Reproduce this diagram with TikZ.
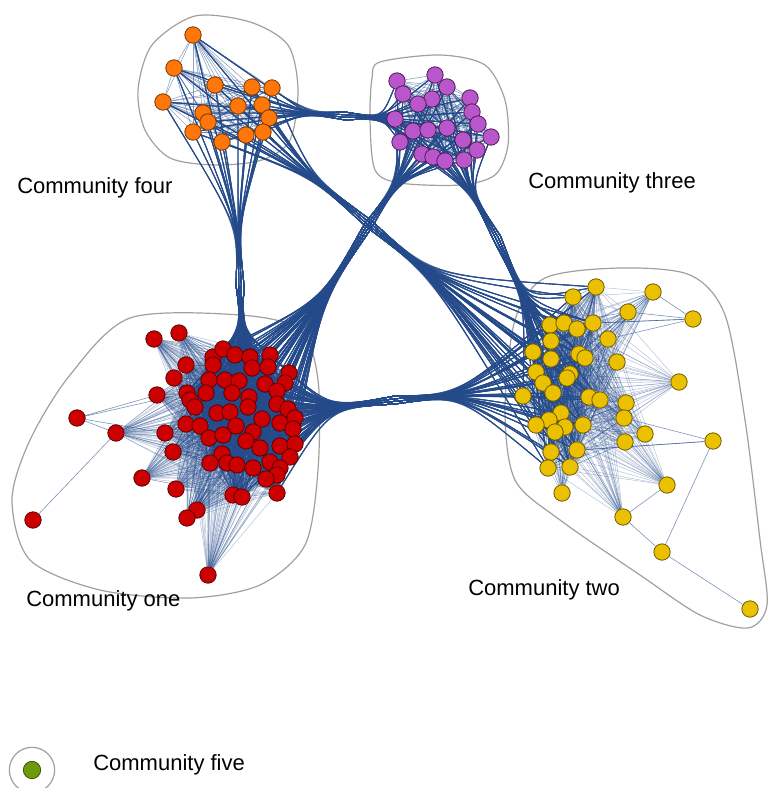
\documentclass[tikz,border=0pt]{standalone}
\usepackage{fontspec}
\setmainfont{Liberation Sans}
\usetikzlibrary{backgrounds}
\definecolor{edgeblue}{RGB}{36,74,138}
\definecolor{hullgray}{RGB}{160,160,160}
\definecolor{orangefill}{RGB}{255,118,10}
\definecolor{orangeline}{RGB}{120,55,0}
\definecolor{purplefill}{RGB}{186,86,204}
\definecolor{purpleline}{RGB}{75,28,85}
\definecolor{redfill}{RGB}{204,0,0}
\definecolor{redline}{RGB}{90,0,0}
\definecolor{yellowfill}{RGB}{234,192,0}
\definecolor{yellowline}{RGB}{110,90,0}
\definecolor{greenfill}{RGB}{107,154,10}
\definecolor{greenline}{RGB}{60,85,0}
\begin{document}
\begin{tikzpicture}[x=0.75pt,y=-0.75pt]
  \tikzstyle{member}=[circle,line width=0.6pt,minimum size=12.3pt,inner sep=0pt]
  \tikzstyle{orangenode}=[member,draw=orangeline,fill=orangefill]
  \tikzstyle{purplenode}=[member,draw=purpleline,fill=purplefill]
  \tikzstyle{rednode}=[member,draw=redline,fill=redfill]
  \tikzstyle{yellownode}=[member,draw=yellowline,fill=yellowfill]
  \tikzstyle{intraedge}=[draw=edgeblue,line width=0.45pt,opacity=0.5]
  \tikzstyle{fanedge}=[draw=edgeblue,line width=0.35pt,opacity=0.35]
  \tikzstyle{bundleedge}=[draw=edgeblue,line width=0.7pt,opacity=0.75]
  \tikzstyle{hullline}=[draw=hullgray,line width=0.9pt]
  \tikzstyle{commname}=[font=\fontsize{16.5}{19}\selectfont,anchor=west,inner sep=0pt]
  \useasboundingbox (0,0) rectangle (767,788);

  % community four
  \foreach \x/\y [count=\i] in {193/35,174/68,215/85,252/87,272/88,163/102,238/106,262/105,
      203/113,208/122,269/118,193/132,246/135,263/132,222/142}
    \node[orangenode] (o\i) at (\x,\y) {};
  % community three
  \foreach \x/\y [count=\i] in {397/81,435/75,447/87,403/94,432/99,470/98,418/104,472/112,
      395/119,478/124,413/131,428/130,447/128,491/137,400/142,463/140,477/150,422/154,
      433/157,445/161,464/160}
    \node[purplenode] (p\i) at (\x,\y) {};
  % community one
  \foreach \x/\y [count=\i] in {213/357,223/349,235/355,250/357,270/355,213/365,252/368,
      268/367,289/373,209/380,225/380,239/381,265/384,285/383,277/391,187/393,206/393,
      232/393,249/397,190/400,195/407,248/407,277/404,288/409,217/413,230/412,262/419,
      295/418,186/424,200/426,236/426,280/423,293/429,209/438,223/435,253/432,246/441,
      260/448,280/446,295/444,222/454,210/463,227/463,237/465,253/468,270/462,290/457,
      280/468,277/475,266/479,233/495,242/497,277/493}
    \node[rednode] (r\i) at (\x,\y) {};
  \foreach \x/\y [count=\i] in {154/339,179/333,186/365,174/378,157/395,116/433,165/433,
      173/452,142/478,176/489,197/510,187/518,208/575}
    \node[rednode] (rf\i) at (\x,\y) {};
  \node[rednode] (rx1) at (77,418) {};
  \node[rednode] (rx2) at (33,520) {};
  % community two
  \foreach \x/\y [count=\i] in {596/287,573/297,550/325,564/323,577/329,593/323,551/341,
      533/352,579/354,585/358,551/359,536/372,543/383,570/374,567/378,553/393,523/396,
      589/397,600/400,561/413,549/420,536/425,565/427,583/425,555/432,551/452,577/450,
      548/468,570/467}
    \node[yellownode] (y\i) at (\x,\y) {};
  \foreach \x/\y [count=\i] in {653/292,628/312,608/339,617/362,679/382,626/403,624/418,
      645/434,625/442,667/485,623/517,562/493}
    \node[yellownode] (yf\i) at (\x,\y) {};
  \node[yellownode] (yx1) at (693,319) {};
  \node[yellownode] (yx2) at (713,441) {};
  \node[yellownode] (yx3) at (662,552) {};
  \node[yellownode] (yx4) at (750,609) {};

  % community five
  \node[circle,draw=hullgray,line width=0.9pt,minimum size=34pt] (ring) at (32,770) {};
  \node[member,draw=greenline,fill=greenfill,minimum size=13pt] (g1) at (32,770) {};

  % names
  \node[commname] (nfour) at (17,188) {Community four};
  \node[commname] (nthree) at (528,183) {Community three};
  \node[commname] (none) at (26,601) {Community one};
  \node[commname] (ntwo) at (468,590) {Community two};
  \node[commname] (nfive) at (93,765) {Community five};

  \begin{scope}[on background layer]
    % hulls
    \draw[hullline] plot[smooth cycle] coordinates {(195,16) (250,22) (288,45) (298,90)
      (290,140) (262,160) (215,165) (170,158) (145,130) (138,90) (152,45)};
    \draw[hullline] plot[smooth cycle] coordinates {(380,62) (440,55) (485,65) (505,100)
      (508,145) (495,175) (460,185) (400,183) (375,170) (370,120) (372,78)};
    \draw[hullline] plot[smooth cycle] coordinates {(130,318) (240,315) (300,330) (318,380)
      (318,470) (305,545) (260,585) (190,598) (100,590) (30,560) (12,500) (30,440) (70,375)};
    \draw[hullline] plot[smooth cycle] coordinates {(545,278) (620,268) (690,275) (725,315)
      (745,420) (760,540) (767,605) (748,628) (700,615) (640,575) (560,520) (515,480)
      (505,410) (515,320)};

    % edges inside the communities
    \foreach \i in {2,...,15} \foreach \j in {1,...,\i}
      {\ifnum\j<\i \draw[intraedge] (o\i) -- (o\j); \fi}
    \foreach \i in {2,...,21} \foreach \j in {1,...,\i}
      {\ifnum\j<\i \draw[intraedge] (p\i) -- (p\j); \fi}
    \foreach \i in {2,...,53} \foreach \j in {1,...,\i}
      {\ifnum\j<\i \draw[intraedge] (r\i) -- (r\j); \fi}
    \foreach \i in {2,...,29} \foreach \j in {1,...,\i}
      {\ifnum\j<\i \draw[intraedge] (y\i) -- (y\j); \fi}
    \foreach \f in {1,...,13} \foreach \c in {1,...,53}
      \draw[fanedge] (rf\f) -- (r\c);
    \foreach \f in {1,...,12} \foreach \c in {1,...,29}
      \draw[fanedge] (yf\f) -- (y\c);
    \foreach \a/\b in {rx1/rf6,rx1/rf5,rx1/rf7,rx1/r16,rx2/rf6,
        yx1/yf1,yx1/yf2,yx1/yf3,yx1/y6,yx1/y3,yx2/yx3,yx2/y26,yx2/y27,yx2/yf7,
        yx3/yf11,yx3/yx4,yf11/yf10}
      \draw[intraedge,opacity=0.6] (\a) -- (\b);

    % bundles between the communities
    \coordinate (wop) at (345,116);
    \coordinate (cop1) at (305,113);
    \coordinate (cop2) at (382,118);
    \coordinate (wor) at (240,285);
    \coordinate (cor1) at (238,225);
    \coordinate (cor2) at (242,330);
    \coordinate (woy) at (368,223);
    \coordinate (coy1) at (311,176);
    \coordinate (coy2) at (432,276);
    \coordinate (wpr) at (368,226);
    \coordinate (cpr1) at (399,180);
    \coordinate (cpr2) at (322,300);
    \coordinate (wpy) at (497,238);
    \coordinate (cpy1) at (470,190);
    \coordinate (cpy2) at (525,300);
    \coordinate (wry) at (395,400);
    \coordinate (cry1) at (330,408);
    \coordinate (cry2) at (460,395);
    \foreach \s in {-4,-1.3,1.3,4} {
      \foreach \i in {1,...,15} {
        \draw[bundleedge] (o\i) .. controls (cop1) .. ([shift={(0,\s)}]wop);
        \draw[bundleedge] (o\i) .. controls (cor1) .. ([shift={(\s,0)}]wor);
        \draw[bundleedge] (o\i) .. controls (coy1) .. ([shift={(-0.64*\s,0.77*\s)}]woy);
      }
      \foreach \i in {1,...,21} {
        \draw[bundleedge] (p\i) .. controls (cop2) .. ([shift={(0,\s)}]wop);
        \draw[bundleedge] (p\i) .. controls (cpr1) .. ([shift={(0.84*\s,0.54*\s)}]wpr);
        \draw[bundleedge] (p\i) .. controls (cpy1) .. ([shift={(-0.9*\s,0.44*\s)}]wpy);
      }
      \foreach \i in {1,...,53} {
        \draw[bundleedge] (r\i) .. controls (cor2) .. ([shift={(\s,0)}]wor);
        \draw[bundleedge] (r\i) .. controls (cpr2) .. ([shift={(0.84*\s,0.54*\s)}]wpr);
        \draw[bundleedge] (r\i) .. controls (cry1) .. ([shift={(0,\s)}]wry);
      }
      \foreach \i in {1,...,29} {
        \draw[bundleedge] (y\i) .. controls (coy2) .. ([shift={(-0.64*\s,0.77*\s)}]woy);
        \draw[bundleedge] (y\i) .. controls (cpy2) .. ([shift={(-0.9*\s,0.44*\s)}]wpy);
        \draw[bundleedge] (y\i) .. controls (cry2) .. ([shift={(0,\s)}]wry);
      }
    }
  \end{scope}
\end{tikzpicture}
\end{document}
